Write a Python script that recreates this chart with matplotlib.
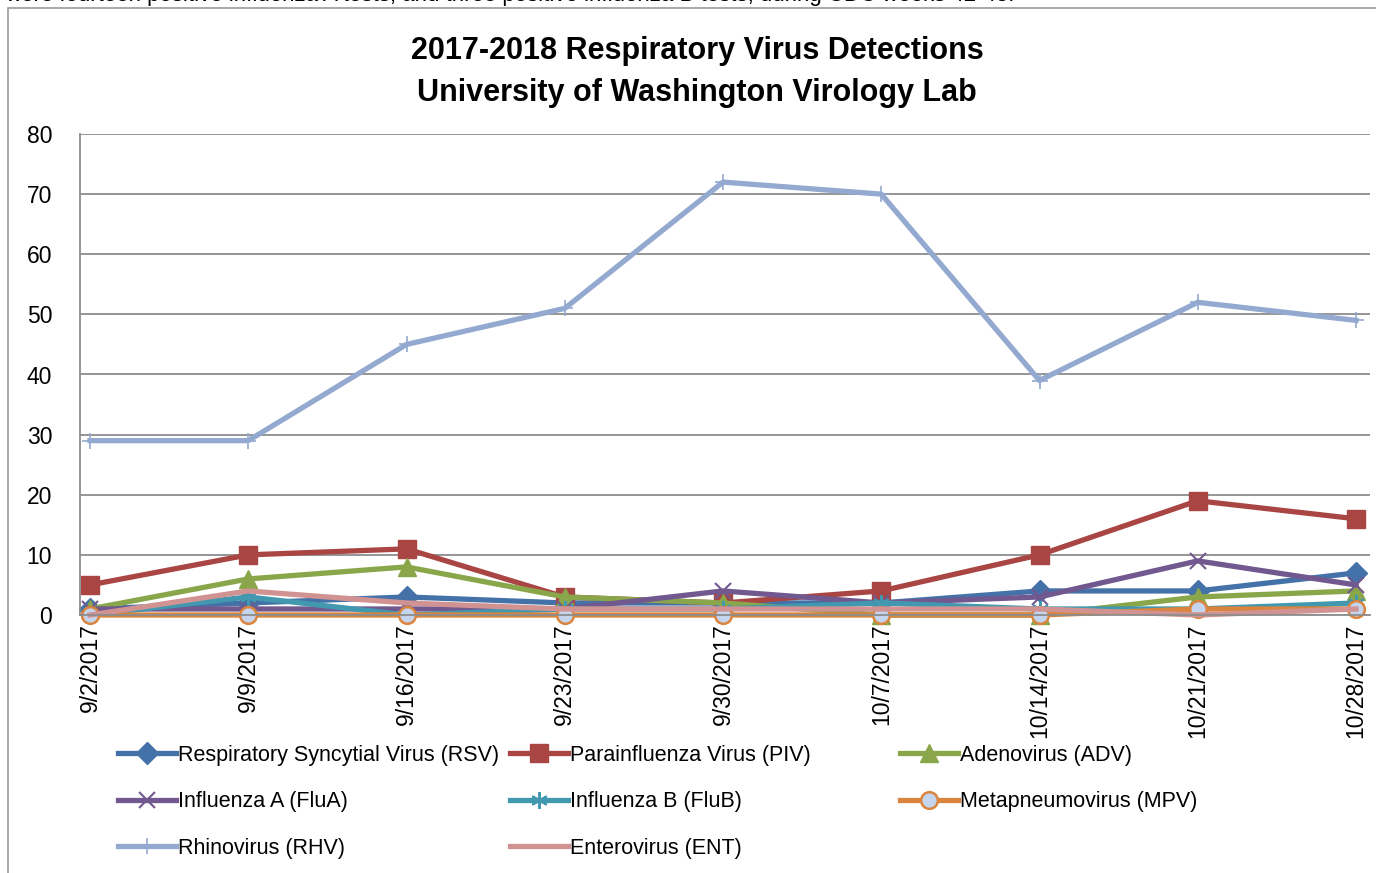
import matplotlib
matplotlib.use("Agg")
import matplotlib.pyplot as plt
from matplotlib.patches import Rectangle
import numpy as np

plt.rcParams["font.family"] = ["Liberation Sans", "DejaVu Sans"]

weeks = ["9/2/2017", "9/9/2017", "9/16/2017", "9/23/2017", "9/30/2017",
         "10/7/2017", "10/14/2017", "10/21/2017", "10/28/2017"]

rsv = [1, 2, 3, 2, 2, 2, 4, 4, 7]
piv = [5, 10, 11, 3, 2, 4, 10, 19, 16]
adv = [1, 6, 8, 3, 2, 0, 0, 3, 4]
flua = [1, 1, 1, 1, 4, 2, 3, 9, 5]
flub = [0, 3, 0, 1, 1, 2, 1, 1, 2]
mpv = [0, 0, 0, 0, 0, 0, 0, 1, 1]
rhv = [29, 29, 45, 51, 72, 70, 39, 52, 49]
ent = [0, 4, 2, 1, 1, 1, 1, 0, 1]

series = [
    ("Respiratory Syncytial Virus (RSV)", rsv, "#4472a8", dict(marker="D", ms=11)),
    ("Parainfluenza Virus (PIV)", piv, "#a94643", dict(marker="s", ms=13)),
    ("Adenovirus (ADV)", adv, "#8aa64a", dict(marker="^", ms=13)),
    ("Influenza A (FluA)", flua, "#71588f", dict(marker="x", ms=12, mew=1.5)),
    ("Influenza B (FluB)", flub, "#4198af", dict(marker=(6, 2, 0), ms=12, mew=1.5)),
    ("Metapneumovirus (MPV)", mpv, "#db843d",
     dict(marker="o", ms=12, mfc="#c5d5ee", mew=1.8)),
    ("Rhinovirus (RHV)", rhv, "#93a9cf", dict(marker="+", ms=11, mew=1.2)),
    ("Enterovirus (ENT)", ent, "#d19392", dict(marker=None)),
]

fig = plt.figure(figsize=(13.76, 8.73), dpi=100)
ax = fig.add_axes([80 / 1376, 1 - 615 / 873, 1290 / 1376, 481 / 873])

x = np.arange(len(weeks))
lines = {}
for name, vals, col, mk in series:
    (ln,) = ax.plot(x, vals, color=col, lw=3.8, mec=col, clip_on=False,
                    label=name, **mk)
    lines[name] = ln

ax.set_xlim(-10 / 158.25, 8 + 14 / 158.25)
ax.set_ylim(0, 80)
ax.set_yticks(range(0, 81, 10))
ax.yaxis.grid(True, color="#8c8c8c", lw=1.3)
ax.set_axisbelow(True)
ax.set_xticks(x)
ax.set_xticklabels(weeks, rotation=90, fontsize=16.5)
ax.tick_params(axis="x", length=0, pad=6)
ax.tick_params(axis="y", length=0, labelsize=16.5, pad=20)
for s in ("top", "right"):
    ax.spines[s].set_visible(False)
for s in ("left", "bottom"):
    ax.spines[s].set_color("#8c8c8c")
    ax.spines[s].set_linewidth(1.3)

fig.suptitle("2017-2018 Respiratory Virus Detections\nUniversity of Washington Virology Lab",
             x=697 / 1376, y=1 - 36 / 873, fontsize=22, fontweight="bold",
             va="top", linespacing=1.5)

# chart frame and cut-off sentence above it
fig.patches.append(Rectangle((8 / 1376, -0.01), 1.1, 1 - 8 / 873 + 0.01,
                             transform=fig.transFigure, fill=False,
                             edgecolor="#9a9a9a", lw=1.2))
fig.text(5 / 1376, 1 + 4 / 873,
         "were fourteen positive influenza A tests, and three positive influenza B tests, "
         "during CDC weeks 42-43.", fontsize=16, va="center", ha="left")

# legend: three columns placed like the original
cols = [
    ["Respiratory Syncytial Virus (RSV)", "Influenza A (FluA)", "Rhinovirus (RHV)"],
    ["Parainfluenza Virus (PIV)", "Influenza B (FluB)", "Enterovirus (ENT)"],
    ["Adenovirus (ADV)", "Metapneumovirus (MPV)"],
]
col_x = [118, 510, 900]
for names, cx in zip(cols, col_x):
    fig.legend([lines[n] for n in names], names, loc="upper left",
               bbox_to_anchor=(cx / 1376, 1 - 745 / 873), frameon=False,
               fontsize=15.5, handlelength=2.7, handletextpad=0.1,
               labelspacing=1.18, numpoints=1, borderpad=0,
               borderaxespad=0)

fig.savefig("out.png", dpi=100, facecolor="white")
